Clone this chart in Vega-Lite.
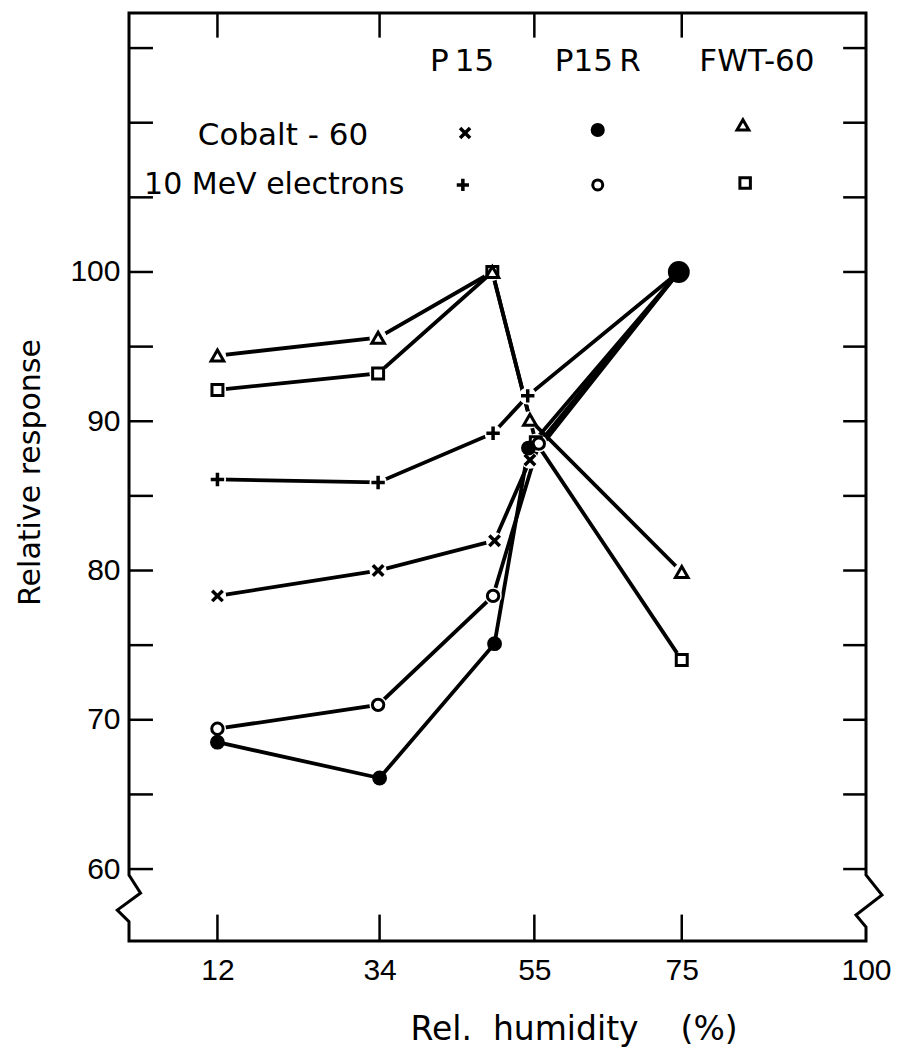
{
  "$schema": "https://vega.github.io/schema/vega-lite/v6.json",
  "width": 737,
  "height": 928,
  "autosize": {"type": "none"},
  "padding": {"left": 129, "top": 13, "right": 31, "bottom": 109},
  "background": "white",
  "config": {
    "view": {"stroke": null},
    "axis": {
      "domain": false,
      "ticks": false,
      "grid": false,
      "labelColor": "black",
      "labelFont": "Liberation Sans",
      "labelFontSize": 30,
      "labelOverlap": false,
      "labelFlush": false,
      "titleColor": "black",
      "titleFont": "DejaVu Sans",
      "titleFontWeight": "normal"
    },
    "text": {"font": "DejaVu Sans", "color": "black"},
    "point": {"opacity": 1}
  },
  "datasets": {
    "response": [
      {"series": "P15 Co-60", "h": 12, "r": 78.3},
      {"series": "P15 Co-60", "h": 33.8, "r": 80.0},
      {"series": "P15 Co-60", "h": 49.6, "r": 82.0},
      {"series": "P15 Co-60", "h": 54.4, "r": 87.4},
      {"series": "P15 Co-60", "h": 74.6, "r": 100},
      {"series": "P15 e", "h": 12, "r": 86.1},
      {"series": "P15 e", "h": 33.8, "r": 85.9},
      {"series": "P15 e", "h": 49.4, "r": 89.2},
      {"series": "P15 e", "h": 54.1, "r": 91.7},
      {"series": "P15 e", "h": 74.6, "r": 100},
      {"series": "P15R Co-60", "h": 12, "r": 68.5},
      {"series": "P15R Co-60", "h": 34, "r": 66.1},
      {"series": "P15R Co-60", "h": 49.6, "r": 75.1},
      {"series": "P15R Co-60", "h": 54.2, "r": 88.2},
      {"series": "P15R Co-60", "h": 74.6, "r": 100},
      {"series": "P15R e", "h": 12, "r": 69.4},
      {"series": "P15R e", "h": 33.8, "r": 71.0},
      {"series": "P15R e", "h": 49.4, "r": 78.3},
      {"series": "P15R e", "h": 55.6, "r": 88.5},
      {"series": "P15R e", "h": 74.6, "r": 100},
      {"series": "FWT-60 Co-60", "h": 12, "r": 94.4},
      {"series": "FWT-60 Co-60", "h": 33.8, "r": 95.6},
      {"series": "FWT-60 Co-60", "h": 49.3, "r": 100},
      {"series": "FWT-60 Co-60", "h": 54.4, "r": 90.1},
      {"series": "FWT-60 Co-60", "h": 75, "r": 79.9},
      {"series": "FWT-60 e", "h": 12, "r": 92.1},
      {"series": "FWT-60 e", "h": 33.8, "r": 93.2},
      {"series": "FWT-60 e", "h": 49.3, "r": 100},
      {"series": "FWT-60 e", "h": 55.2, "r": 88.6},
      {"series": "FWT-60 e", "h": 75, "r": 74.0}
    ],
    "frame": [
      {"k": 0, "h": 0, "r": 117.35},
      {"k": 1, "h": 0, "r": 59.6},
      {"k": 2, "h": 1.57, "r": 58.39},
      {"k": 3, "h": -1.59, "r": 57.25},
      {"k": 4, "h": 0, "r": 56.47},
      {"k": 5, "h": 0, "r": 55.18},
      {"k": 6, "h": 100, "r": 55.18},
      {"k": 7, "h": 100, "r": 56.12},
      {"k": 8, "h": 98.64, "r": 56.92},
      {"k": 9, "h": 102.17, "r": 58.26},
      {"k": 10, "h": 100, "r": 59.6},
      {"k": 11, "h": 100, "r": 117.35},
      {"k": 12, "h": 0, "r": 117.35}
    ],
    "yticks": [
      {"r": 60}, {"r": 65}, {"r": 70}, {"r": 75}, {"r": 80}, {"r": 85},
      {"r": 90}, {"r": 95}, {"r": 100}, {"r": 105}, {"r": 110}, {"r": 115}
    ],
    "xticks": [{"h": 12}, {"h": 34}, {"h": 55}, {"h": 75}],
    "one": [{}]
  },
  "layer": [
    {
      "data": {"name": "frame"},
      "mark": {"type": "line", "color": "black", "strokeWidth": 3, "strokeCap": "square", "strokeJoin": "miter"},
      "encoding": {
        "x": {"field": "h", "type": "quantitative", "scale": {"domain": [0, 100], "nice": false, "zero": false}},
        "y": {"field": "r", "type": "quantitative", "scale": {"domain": [55.18, 117.35], "nice": false, "zero": false}},
        "order": {"field": "k", "type": "quantitative"}
      }
    },
    {
      "data": {"name": "yticks"},
      "mark": {"type": "rule", "color": "black", "strokeWidth": 2.5},
      "encoding": {
        "x": {"datum": 0, "type": "quantitative", "scale": {"domain": [0, 100], "nice": false, "zero": false}},
        "x2": {"datum": 3.25},
        "y": {"field": "r", "type": "quantitative", "scale": {"domain": [55.18, 117.35], "nice": false, "zero": false}}
      }
    },
    {
      "data": {"name": "yticks"},
      "mark": {"type": "rule", "color": "black", "strokeWidth": 2.5},
      "encoding": {
        "x": {"datum": 100, "type": "quantitative", "scale": {"domain": [0, 100], "nice": false, "zero": false}},
        "x2": {"datum": 96.9},
        "y": {"field": "r", "type": "quantitative", "scale": {"domain": [55.18, 117.35], "nice": false, "zero": false}}
      }
    },
    {
      "data": {"name": "xticks"},
      "mark": {"type": "rule", "color": "black", "strokeWidth": 2.5},
      "encoding": {
        "x": {"field": "h", "type": "quantitative", "scale": {"domain": [0, 100], "nice": false, "zero": false}},
        "y": {"datum": 55.18, "type": "quantitative", "scale": {"domain": [55.18, 117.35], "nice": false, "zero": false}},
        "y2": {"datum": 56.95}
      }
    },
    {
      "data": {"name": "xticks"},
      "mark": {"type": "rule", "color": "black", "strokeWidth": 2.5},
      "encoding": {
        "x": {"field": "h", "type": "quantitative", "scale": {"domain": [0, 100], "nice": false, "zero": false}},
        "y": {"datum": 117.35, "type": "quantitative", "scale": {"domain": [55.18, 117.35], "nice": false, "zero": false}},
        "y2": {"datum": 115.7}
      }
    },
    {
      "data": {"name": "response"},
      "mark": {"type": "line", "color": "black", "strokeWidth": 3.8, "strokeCap": "round"},
      "encoding": {
        "x": {
          "field": "h",
          "type": "quantitative",
          "scale": {"domain": [0, 100], "nice": false, "zero": false},
          "title": "Rel.\u00a0\u00a0humidity\u00a0\u00a0\u00a0\u00a0(%)",
          "axis": {
            "values": [12, 34, 55, 75, 100],
            "labelPadding": 14,
            "titleFontSize": 33,
            "titleX": 281,
            "titleY": 98,
            "titleAlign": "left",
            "titleBaseline": "alphabetic"
          }
        },
        "y": {
          "field": "r",
          "type": "quantitative",
          "scale": {"domain": [55.18, 117.35], "nice": false, "zero": false},
          "title": "Relative response",
          "axis": {
            "values": [60, 70, 80, 90, 100],
            "labelPadding": 9,
            "titleFontSize": 30,
            "titleAngle": -90,
            "titleX": -99,
            "titleY": 459,
            "titleAlign": "center",
            "titleBaseline": "middle"
          }
        },
        "detail": {"field": "series"}
      }
    },
    {
      "data": {"name": "response"},
      "transform": [{"filter": "datum.series !== 'P15R Co-60'"}],
      "mark": {"type": "point", "shape": "circle", "filled": true, "fill": "white", "size": 300},
      "encoding": {
        "x": {"field": "h", "type": "quantitative", "scale": {"domain": [0, 100], "nice": false, "zero": false}},
        "y": {"field": "r", "type": "quantitative", "scale": {"domain": [55.18, 117.35], "nice": false, "zero": false}}
      }
    },
    {
      "data": {"name": "response"},
      "transform": [{"filter": "datum.series === 'FWT-60 e'"}],
      "mark": {"type": "point", "shape": "square", "filled": true, "fill": "white", "stroke": "black", "strokeWidth": 3, "size": 120},
      "encoding": {
        "x": {"field": "h", "type": "quantitative", "scale": {"domain": [0, 100], "nice": false, "zero": false}},
        "y": {"field": "r", "type": "quantitative", "scale": {"domain": [55.18, 117.35], "nice": false, "zero": false}}
      }
    },
    {
      "data": {"name": "response"},
      "transform": [{"filter": "datum.series === 'FWT-60 Co-60'"}],
      "mark": {"type": "point", "shape": "triangle-up", "filled": true, "fill": "white", "stroke": "black", "strokeWidth": 3, "size": 160},
      "encoding": {
        "x": {"field": "h", "type": "quantitative", "scale": {"domain": [0, 100], "nice": false, "zero": false}},
        "y": {"field": "r", "type": "quantitative", "scale": {"domain": [55.18, 117.35], "nice": false, "zero": false}}
      }
    },
    {
      "data": {"name": "response"},
      "transform": [{"filter": "datum.series === 'P15R e'"}],
      "mark": {"type": "point", "shape": "circle", "filled": true, "fill": "white", "stroke": "black", "strokeWidth": 3, "size": 130},
      "encoding": {
        "x": {"field": "h", "type": "quantitative", "scale": {"domain": [0, 100], "nice": false, "zero": false}},
        "y": {"field": "r", "type": "quantitative", "scale": {"domain": [55.18, 117.35], "nice": false, "zero": false}}
      }
    },
    {
      "data": {"name": "response"},
      "transform": [{"filter": "datum.series === 'P15R Co-60'"}],
      "mark": {"type": "point", "shape": "circle", "filled": true, "fill": "black", "size": 220},
      "encoding": {
        "x": {"field": "h", "type": "quantitative", "scale": {"domain": [0, 100], "nice": false, "zero": false}},
        "y": {"field": "r", "type": "quantitative", "scale": {"domain": [55.18, 117.35], "nice": false, "zero": false}}
      }
    },
    {
      "data": {"name": "response"},
      "transform": [{"filter": "datum.series === 'P15R Co-60' && datum.r >= 100"}],
      "mark": {"type": "point", "shape": "circle", "filled": true, "fill": "black", "size": 480},
      "encoding": {
        "x": {"field": "h", "type": "quantitative", "scale": {"domain": [0, 100], "nice": false, "zero": false}},
        "y": {"field": "r", "type": "quantitative", "scale": {"domain": [55.18, 117.35], "nice": false, "zero": false}}
      }
    },
    {
      "data": {"name": "response"},
      "transform": [{"filter": "datum.series === 'P15 Co-60' && datum.r < 100"}],
      "mark": {"type": "point", "shape": "M-1,-1L1,1M-1,1L1,-1", "filled": false, "stroke": "black", "strokeWidth": 3.5, "size": 110},
      "encoding": {
        "x": {"field": "h", "type": "quantitative", "scale": {"domain": [0, 100], "nice": false, "zero": false}},
        "y": {"field": "r", "type": "quantitative", "scale": {"domain": [55.18, 117.35], "nice": false, "zero": false}}
      }
    },
    {
      "data": {"name": "response"},
      "transform": [{"filter": "datum.series === 'P15 e' && datum.r < 100"}],
      "mark": {"type": "point", "shape": "M-1,0L1,0M0,-1L0,1", "filled": false, "stroke": "black", "strokeWidth": 3.5, "size": 180},
      "encoding": {
        "x": {"field": "h", "type": "quantitative", "scale": {"domain": [0, 100], "nice": false, "zero": false}},
        "y": {"field": "r", "type": "quantitative", "scale": {"domain": [55.18, 117.35], "nice": false, "zero": false}}
      }
    },
    {
      "data": {"name": "one"},
      "mark": {"type": "text", "fontSize": 31, "align": "center", "baseline": "middle", "text": "P\u200915"},
      "encoding": {
        "x": {"datum": 45.2, "type": "quantitative", "scale": {"domain": [0, 100], "nice": false, "zero": false}},
        "y": {"datum": 114.07, "type": "quantitative", "scale": {"domain": [55.18, 117.35], "nice": false, "zero": false}}
      }
    },
    {
      "data": {"name": "one"},
      "mark": {"type": "text", "fontSize": 31, "align": "center", "baseline": "middle", "text": "P15\u2009R"},
      "encoding": {
        "x": {"datum": 63.6, "type": "quantitative", "scale": {"domain": [0, 100], "nice": false, "zero": false}},
        "y": {"datum": 114.07, "type": "quantitative", "scale": {"domain": [55.18, 117.35], "nice": false, "zero": false}}
      }
    },
    {
      "data": {"name": "one"},
      "mark": {"type": "text", "fontSize": 31, "align": "center", "baseline": "middle", "text": "FWT-60"},
      "encoding": {
        "x": {"datum": 85.2, "type": "quantitative", "scale": {"domain": [0, 100], "nice": false, "zero": false}},
        "y": {"datum": 114.07, "type": "quantitative", "scale": {"domain": [55.18, 117.35], "nice": false, "zero": false}}
      }
    },
    {
      "data": {"name": "one"},
      "mark": {"type": "text", "fontSize": 31, "align": "center", "baseline": "middle", "text": "Cobalt - 60"},
      "encoding": {
        "x": {"datum": 20.9, "type": "quantitative", "scale": {"domain": [0, 100], "nice": false, "zero": false}},
        "y": {"datum": 109.11, "type": "quantitative", "scale": {"domain": [55.18, 117.35], "nice": false, "zero": false}}
      }
    },
    {
      "data": {"name": "one"},
      "mark": {"type": "text", "fontSize": 30, "align": "center", "baseline": "middle", "text": "10 MeV electrons"},
      "encoding": {
        "x": {"datum": 19.7, "type": "quantitative", "scale": {"domain": [0, 100], "nice": false, "zero": false}},
        "y": {"datum": 105.86, "type": "quantitative", "scale": {"domain": [55.18, 117.35], "nice": false, "zero": false}}
      }
    },
    {
      "data": {"name": "one"},
      "mark": {"type": "point", "shape": "M-1,-1L1,1M-1,1L1,-1", "filled": false, "stroke": "black", "strokeWidth": 3.5, "size": 100},
      "encoding": {
        "x": {"datum": 45.6, "type": "quantitative", "scale": {"domain": [0, 100], "nice": false, "zero": false}},
        "y": {"datum": 109.31, "type": "quantitative", "scale": {"domain": [55.18, 117.35], "nice": false, "zero": false}}
      }
    },
    {
      "data": {"name": "one"},
      "mark": {"type": "point", "shape": "M-1,0L1,0M0,-1L0,1", "filled": false, "stroke": "black", "strokeWidth": 3.5, "size": 150},
      "encoding": {
        "x": {"datum": 45.3, "type": "quantitative", "scale": {"domain": [0, 100], "nice": false, "zero": false}},
        "y": {"datum": 105.83, "type": "quantitative", "scale": {"domain": [55.18, 117.35], "nice": false, "zero": false}}
      }
    },
    {
      "data": {"name": "one"},
      "mark": {"type": "point", "shape": "circle", "filled": true, "fill": "black", "size": 200},
      "encoding": {
        "x": {"datum": 63.6, "type": "quantitative", "scale": {"domain": [0, 100], "nice": false, "zero": false}},
        "y": {"datum": 109.51, "type": "quantitative", "scale": {"domain": [55.18, 117.35], "nice": false, "zero": false}}
      }
    },
    {
      "data": {"name": "one"},
      "mark": {"type": "point", "shape": "circle", "filled": true, "fill": "white", "stroke": "black", "strokeWidth": 3, "size": 100},
      "encoding": {
        "x": {"datum": 63.6, "type": "quantitative", "scale": {"domain": [0, 100], "nice": false, "zero": false}},
        "y": {"datum": 105.83, "type": "quantitative", "scale": {"domain": [55.18, 117.35], "nice": false, "zero": false}}
      }
    },
    {
      "data": {"name": "one"},
      "mark": {"type": "point", "shape": "triangle-up", "filled": true, "fill": "white", "stroke": "black", "strokeWidth": 3, "size": 140},
      "encoding": {
        "x": {"datum": 83.3, "type": "quantitative", "scale": {"domain": [0, 100], "nice": false, "zero": false}},
        "y": {"datum": 109.85, "type": "quantitative", "scale": {"domain": [55.18, 117.35], "nice": false, "zero": false}}
      }
    },
    {
      "data": {"name": "one"},
      "mark": {"type": "point", "shape": "square", "filled": true, "fill": "white", "stroke": "black", "strokeWidth": 3, "size": 110},
      "encoding": {
        "x": {"datum": 83.6, "type": "quantitative", "scale": {"domain": [0, 100], "nice": false, "zero": false}},
        "y": {"datum": 105.96, "type": "quantitative", "scale": {"domain": [55.18, 117.35], "nice": false, "zero": false}}
      }
    }
  ]
}
